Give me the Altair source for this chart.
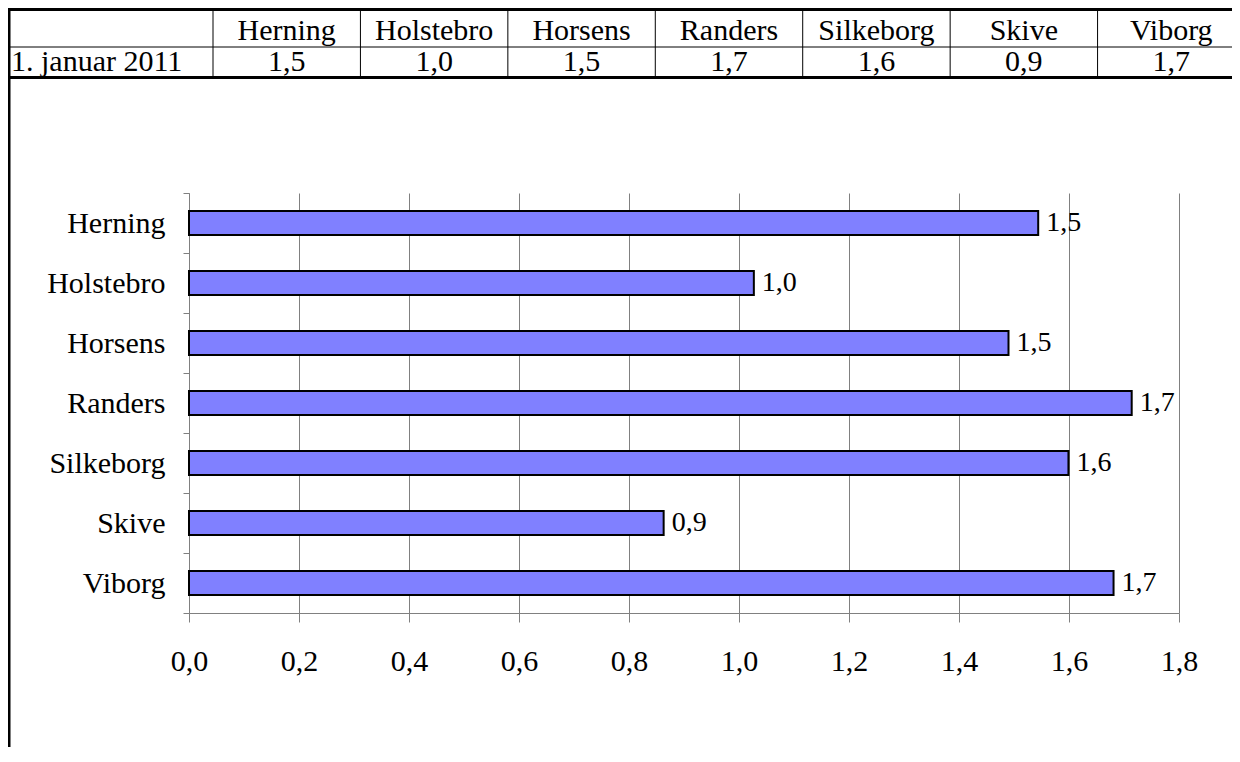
import altair as alt
import pandas as pd

# ---- data -------------------------------------------------------------
cities = ["Herning", "Holstebro", "Horsens", "Randers", "Silkeborg", "Skive", "Viborg"]
values = [1.544, 1.027, 1.490, 1.714, 1.599, 0.863, 1.681]
x_ticks = [0.0, 0.2, 0.4, 0.6, 0.8, 1.0, 1.2, 1.4, 1.6, 1.8]
row_label = "1. januar 2011"
table_rows = ["head", "val"]

FONT = "Liberation Serif"
GREY = "#808080"

def comma(v):
    return f"{v:.1f}".replace(".", ",")

bars_df = pd.DataFrame({"by": cities, "value": values})
table_df = pd.DataFrame({
    "city": cities + cities,
    "row": ["head"] * len(cities) + ["val"] * len(cities),
    "text": cities + [comma(v) for v in values],
})
rowhead_df = pd.DataFrame({"row": ["val"], "text": [row_label]})

# ---- bar chart --------------------------------------------------------
xs = alt.Scale(domain=[0, 1.8], nice=False, zero=True)
ys = alt.Scale(domain=cities, paddingInner=0, paddingOuter=0)

base = alt.Chart(bars_df)

bars = base.mark_bar(size=24, color="#8080FF", stroke="black", strokeWidth=2).encode(
    x=alt.X("value:Q", scale=xs, axis=alt.Axis(
        values=x_ticks, grid=True, gridColor=GREY, gridWidth=1,
        domainColor=GREY, tickColor=GREY, tickSize=9, tickWidth=1,
        labelFont=FONT, labelFontSize=30, labelColor="black", labelPadding=24,
        labelFlush=False, labelOverlap=False, title=None,
        labelExpr="replace(format(datum.value, '.1f'), '.', ',')")),
    y=alt.Y("by:N", scale=ys, sort=cities, axis=alt.Axis(
        title=None, tickBand="extent", tickSize=6, tickColor=GREY, tickWidth=1,
        domainColor=GREY, labelFont=FONT, labelFontSize=30, labelColor="black",
        labelPadding=18, grid=False)),
)

vlabels = base.transform_calculate(
    lab="replace(format(datum.value, '.1f'), '.', ',')"
).mark_text(font=FONT, fontSize=28, align="left", baseline="middle", dx=8, color="black").encode(
    x=alt.X("value:Q", scale=xs),
    y=alt.Y("by:N", scale=ys, sort=cities),
    text="lab:N",
)

chart_part = alt.layer(bars, vlabels)

# ---- table above the chart -------------------------------------------
xt = alt.Scale(domain=cities, range=[24, 1056], paddingInner=0, paddingOuter=0)
yt = alt.Scale(domain=table_rows, range=[-178, -116], paddingInner=0, paddingOuter=0)

tab_text = alt.Chart(table_df).mark_text(font=FONT, fontSize=30, baseline="alphabetic",
                                         dy=9.5, color="black").encode(
    x=alt.X("city:N", scale=xt, axis=None, sort=cities),
    y=alt.Y("row:N", scale=yt, axis=None, sort=table_rows),
    text="text:N",
)

tab_cols = alt.Chart(table_df).transform_filter("datum.row == 'head'").mark_rule(
    color="black", strokeWidth=1).encode(
    x=alt.X("city:N", scale=xt, axis=None, sort=cities, bandPosition=0),
    y=alt.value(-189), y2=alt.value(-116),
)

rowhead = alt.Chart(rowhead_df).mark_text(font=FONT, fontSize=30, baseline="alphabetic",
                                          dy=9.5, align="left", color="black").encode(
    x=alt.value(-178),
    y=alt.Y("row:N", scale=yt, axis=None, sort=table_rows),
    text="text:N",
)

top_line = alt.Chart(rowhead_df).mark_rule(color="black", strokeWidth=3).encode(
    x=alt.value(-181), x2=alt.value(1043), y=alt.value(-183.5))
sep_line = alt.Chart(rowhead_df).mark_rule(color="black", strokeWidth=1).encode(
    x=alt.value(-181), x2=alt.value(1043), y=alt.value(-146))
bot_line = alt.Chart(rowhead_df).mark_rule(color="black", strokeWidth=3).encode(
    x=alt.value(-181), x2=alt.value(1043), y=alt.value(-115.5))
left_line = alt.Chart(rowhead_df).mark_rule(color="black", strokeWidth=3).encode(
    x=alt.value(-180), y=alt.value(-185), y2=alt.value(554))

table_part = alt.layer(tab_text, tab_cols, rowhead, top_line, sep_line, bot_line, left_line)

chart = alt.layer(chart_part, table_part).resolve_scale(
    x="independent", y="independent"
).properties(
    width=990, height=420,
    padding={"left": 181, "top": 185, "right": 53, "bottom": 134},
    autosize=alt.AutoSizeParams(type="none"),
    background="white",
).configure_view(stroke=None)

chart.save("out.html", embed_options={"renderer": "svg", "actions": False})
